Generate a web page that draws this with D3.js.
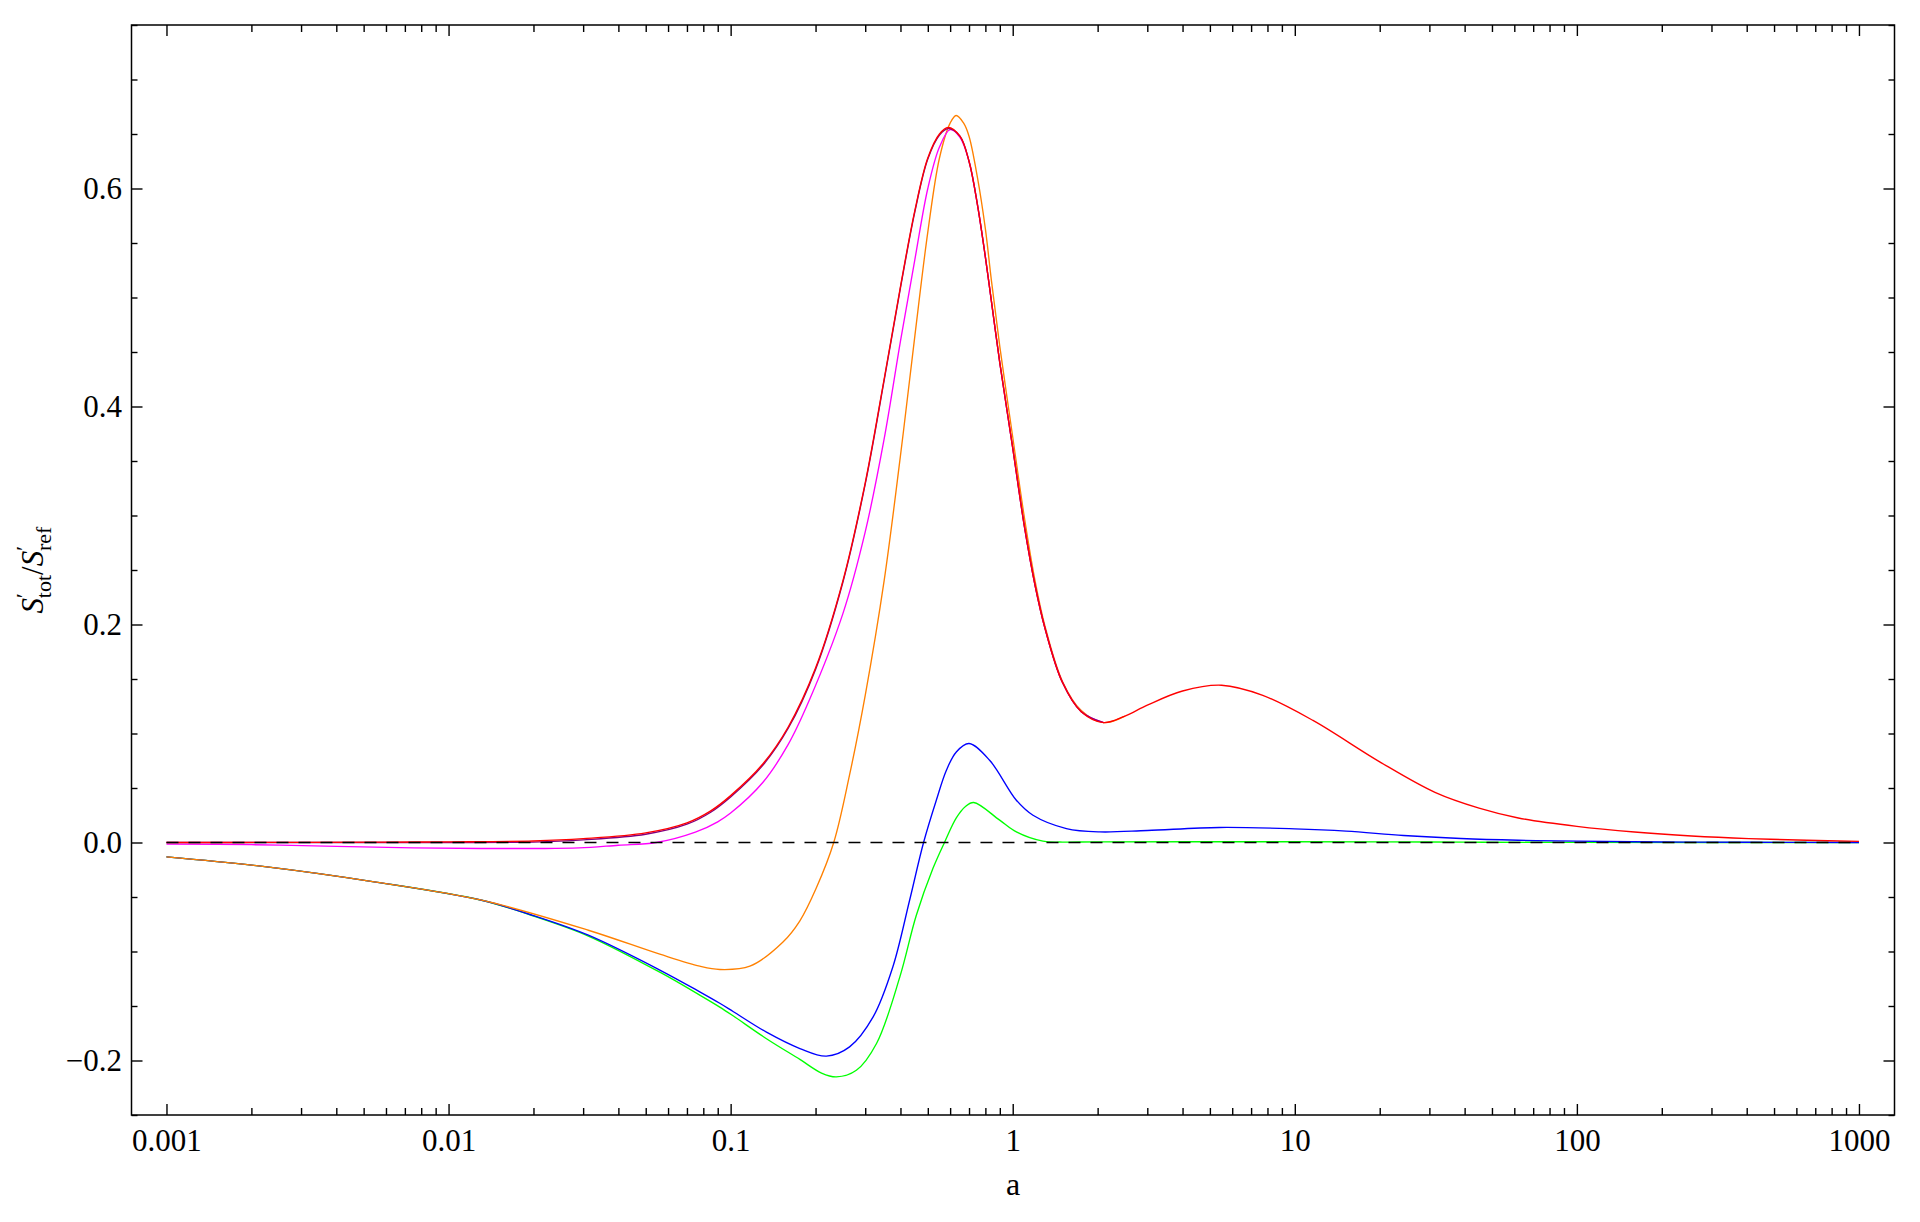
<!DOCTYPE html>
<html>
<head>
<meta charset="utf-8">
<script src="https://cdn.jsdelivr.net/npm/d3@7/dist/d3.min.js"></script>
<style>
  html, body { margin: 0; padding: 0; background: #ffffff; }
  svg { display: block; }
  svg text { font-family: "Liberation Serif", "Tinos", "Times New Roman", "DejaVu Serif", serif; fill: #000; }
</style>
</head>
<body>
<svg id="chart" width="1920" height="1222"></svg>
<script>
// ---------------- data ----------------
const xTickValues = [0.001, 0.01, 0.1, 1, 10, 100, 1000];
const xTickLabels = ["0.001", "0.01", "0.1", "1", "10", "100", "1000"];
const yTickValues = [-0.2, 0.0, 0.2, 0.4, 0.6];
const yTickLabels = ["\u22120.2", "0.0", "0.2", "0.4", "0.6"];

const redA = [0.001, 0.003, 0.006, 0.01, 0.02, 0.03, 0.05, 0.07, 0.085, 0.1, 0.13, 0.16, 0.2, 0.25, 0.3, 0.35, 0.4, 0.45, 0.5, 0.55, 0.59, 0.65, 0.7, 0.75, 0.8, 0.85, 0.9, 1.0, 1.1, 1.2, 1.3, 1.5, 1.75, 2.1, 2.5, 3.0, 4.0, 5.5, 7.7, 11.6, 20, 31.4, 45, 62, 100, 160, 255, 407, 654, 1000];
const redV = [0, 0.0001, 0.0003, 0.0006, 0.0014, 0.0035, 0.0088, 0.018, 0.029, 0.043, 0.072, 0.106, 0.16, 0.24, 0.33, 0.425, 0.51, 0.58, 0.628, 0.65, 0.656, 0.648, 0.625, 0.585, 0.537, 0.487, 0.44, 0.362, 0.29, 0.236, 0.197, 0.147, 0.12, 0.110, 0.116, 0.126, 0.139, 0.1443, 0.135, 0.112, 0.074, 0.046, 0.0315, 0.0225, 0.0148, 0.0096, 0.006, 0.0036, 0.0021, 0.001];

const purpleA = [0.001, 0.003, 0.006, 0.01, 0.02, 0.03, 0.05, 0.07, 0.085, 0.1, 0.13, 0.16, 0.2, 0.25, 0.3, 0.35, 0.4, 0.45, 0.5, 0.55, 0.59, 0.65, 0.7, 0.75, 0.8, 0.85, 0.9, 1.0, 1.1, 1.2, 1.3, 1.5, 1.75, 2.1];
const purpleV = [0, 0, 0, 0, 0.0004, 0.0024, 0.0076, 0.0168, 0.0278, 0.0418, 0.0708, 0.1048, 0.1588, 0.2388, 0.3288, 0.4238, 0.5088, 0.5788, 0.627, 0.649, 0.655, 0.648, 0.625, 0.585, 0.537, 0.487, 0.44, 0.362, 0.29, 0.236, 0.197, 0.147, 0.12, 0.110];

const magentaA = [0.001, 0.002, 0.004, 0.0075, 0.013, 0.02, 0.029, 0.04, 0.0545, 0.075, 0.09, 0.1, 0.13, 0.16, 0.19, 0.25, 0.3, 0.35, 0.4, 0.45, 0.5, 0.55, 0.6, 0.65, 0.7, 0.75, 0.8, 0.85, 0.9, 1.0, 1.1, 1.2, 1.3, 1.5, 1.75, 2.1];
const magentaV = [-0.0015, -0.002, -0.0035, -0.005, -0.0055, -0.0055, -0.005, -0.0025, 0, 0.0095, 0.019, 0.027, 0.055, 0.09, 0.1305, 0.21, 0.285, 0.37, 0.46, 0.535, 0.6, 0.638, 0.654, 0.647, 0.625, 0.585, 0.537, 0.487, 0.44, 0.362, 0.29, 0.236, 0.197, 0.147, 0.12, 0.110];

const orangeA = [0.001, 0.00227, 0.00545, 0.0131, 0.0313, 0.0561, 0.0777, 0.0915, 0.117, 0.153, 0.176, 0.201, 0.232, 0.264, 0.3, 0.35, 0.4, 0.45, 0.5, 0.55, 0.6, 0.63, 0.67, 0.7, 0.75, 0.8, 0.84, 0.9, 1.0, 1.1, 1.2, 1.3, 1.5, 1.75, 2.1, 2.5];
const orangeV = [-0.0132, -0.0224, -0.0361, -0.0529, -0.0805, -0.1025, -0.1135, -0.1165, -0.1135, -0.0915, -0.0718, -0.042, 0, 0.062, 0.135, 0.24, 0.355, 0.465, 0.56, 0.628, 0.66, 0.667, 0.66, 0.648, 0.61, 0.563, 0.516, 0.455, 0.372, 0.298, 0.24, 0.199, 0.148, 0.121, 0.110, 0.116];

const blueA = [0.001, 0.00227, 0.00545, 0.0131, 0.02, 0.0313, 0.0561, 0.0777, 0.0915, 0.102, 0.134, 0.176, 0.2185, 0.264, 0.32, 0.376, 0.431, 0.483, 0.536, 0.582, 0.631, 0.70, 0.828, 1.03, 1.18, 1.55, 2.03, 3.0, 5.4, 10, 15.2, 24.3, 38.8, 62, 100, 200, 400, 1000];
const blueV = [-0.0132, -0.0224, -0.0361, -0.053, -0.067, -0.085, -0.117, -0.137, -0.1475, -0.155, -0.174, -0.189, -0.196, -0.1875, -0.16, -0.114, -0.053, 0, 0.0388, 0.0663, 0.0831, 0.0908, 0.0755, 0.0388, 0.025, 0.0128, 0.0097, 0.011, 0.0138, 0.0125, 0.0104, 0.0064, 0.0037, 0.0021, 0.0012, 0.0005, 0.0002, 0];

const greenA = [0.001, 0.00227, 0.00545, 0.0131, 0.02, 0.0313, 0.0561, 0.0777, 0.0915, 0.102, 0.134, 0.176, 0.21, 0.237, 0.279, 0.329, 0.398, 0.455, 0.522, 0.574, 0.631, 0.68, 0.727, 0.899, 1.03, 1.28, 1.5, 2, 5, 20, 40, 100, 1000];
const greenV = [-0.0132, -0.0224, -0.0361, -0.053, -0.0675, -0.0858, -0.119, -0.14, -0.151, -0.159, -0.18, -0.199, -0.2115, -0.215, -0.209, -0.1844, -0.1233, -0.067, -0.0235, 0.0005, 0.0225, 0.033, 0.0367, 0.0205, 0.0097, 0.0012, 0.0004, 0.0006, 0.0007, 0.0006, 0.0003, 0.0001, 0];

const zeroLineA = [0.001, 1000];
const zeroLineV = [0, 0];

// ---------------- layout ----------------
const svg = d3.select("#chart");
const plotLeft = 131.5, plotRight = 1894.5, plotTop = 25, plotBottom = 1115;

const x = d3.scaleLog()
  .domain([Math.pow(10, -3.124), Math.pow(10, 3.126)])
  .range([plotLeft, plotRight]);
const y = d3.scaleLinear()
  .domain([-0.25, 0.75])
  .range([plotBottom, plotTop]);

const xMinor = [];
for (let d = -3; d < 3; d++) for (let k = 2; k <= 9; k++) xMinor.push(k * Math.pow(10, d));
const yMinor = d3.range(-5, 16).map(i => i * 0.05).filter(v => Math.abs(v / 0.2 - Math.round(v / 0.2)) > 1e-6);

const fontSize = 31;

function styleAxis(g) {
  g.attr("font-family", null).attr("font-size", null);
  g.select(".domain").remove();
  g.selectAll(".tick line").attr("stroke", "#000").attr("stroke-width", 1.4);
  g.selectAll("text").attr("font-size", fontSize).attr("fill", "#000");
}

// bottom
svg.append("g").attr("transform", `translate(0,${plotBottom})`)
  .call(d3.axisBottom(x).tickValues(xTickValues).tickSize(-11).tickPadding(14)
    .tickFormat((d, i) => xTickLabels[i]))
  .call(styleAxis);
svg.append("g").attr("transform", `translate(0,${plotBottom})`)
  .call(d3.axisBottom(x).tickValues(xMinor).tickSize(-7).tickFormat(""))
  .call(styleAxis);
// top
svg.append("g").attr("transform", `translate(0,${plotTop})`)
  .call(d3.axisTop(x).tickValues(xTickValues).tickSize(-11).tickFormat(""))
  .call(styleAxis);
svg.append("g").attr("transform", `translate(0,${plotTop})`)
  .call(d3.axisTop(x).tickValues(xMinor).tickSize(-7).tickFormat(""))
  .call(styleAxis);
// left
svg.append("g").attr("transform", `translate(${plotLeft},0)`)
  .call(d3.axisLeft(y).tickValues(yTickValues).tickSize(-11).tickPadding(9.5)
    .tickFormat((d, i) => yTickLabels[i]))
  .call(styleAxis);
svg.append("g").attr("transform", `translate(${plotLeft},0)`)
  .call(d3.axisLeft(y).tickValues(yMinor).tickSize(-6).tickFormat(""))
  .call(styleAxis);
// right
svg.append("g").attr("transform", `translate(${plotRight},0)`)
  .call(d3.axisRight(y).tickValues(yTickValues).tickSize(-11).tickFormat(""))
  .call(styleAxis);
svg.append("g").attr("transform", `translate(${plotRight},0)`)
  .call(d3.axisRight(y).tickValues(yMinor).tickSize(-6).tickFormat(""))
  .call(styleAxis);

// curves
const line = d3.line().x(d => x(d[0])).y(d => y(d[1])).curve(d3.curveCatmullRom.alpha(0.5));
const series = [
  { a: greenA, v: greenV, color: "#00ff00" },
  { a: blueA, v: blueV, color: "#0000ff" },
  { a: orangeA, v: orangeV, color: "#ff8000" },
  { a: magentaA, v: magentaV, color: "#ff00ff" },
  { a: purpleA, v: purpleV, color: "#800080" },
  { a: redA, v: redV, color: "#ff0000" }
];
const plot = svg.append("g");
series.forEach(s => {
  plot.append("path")
    .datum(s.a.map((a, i) => [a, s.v[i]]))
    .attr("d", line)
    .attr("fill", "none")
    .attr("stroke", s.color)
    .attr("stroke-width", 1.35)
    .attr("stroke-linejoin", "round");
});
plot.append("path")
  .datum(zeroLineA.map((a, i) => [a, zeroLineV[i]]))
  .attr("d", d3.line().x(d => x(d[0])).y(d => y(d[1])))
  .attr("fill", "none")
  .attr("stroke", "#000")
  .attr("stroke-width", 1.4)
  .attr("stroke-dasharray", "12,10");

// frame
svg.append("rect")
  .attr("x", plotLeft).attr("y", plotTop)
  .attr("width", plotRight - plotLeft).attr("height", plotBottom - plotTop)
  .attr("fill", "none").attr("stroke", "#000").attr("stroke-width", 1.5);

// axis labels
svg.append("text")
  .attr("x", (plotLeft + plotRight) / 2).attr("y", 1195)
  .attr("text-anchor", "middle").attr("font-size", 32)
  .text("a");

const yl = svg.append("text")
  .attr("transform", `translate(43,${(plotTop + plotBottom) / 2}) rotate(-90)`)
  .attr("text-anchor", "middle").attr("font-size", fontSize);
yl.append("tspan").attr("font-style", "italic").text("S");
yl.append("tspan").attr("font-size", 22).attr("dy", -12).text("\u2032");
yl.append("tspan").attr("font-size", 22).attr("dx", -5).attr("dy", 20).text("tot");
yl.append("tspan").attr("dy", -8).text("/");
yl.append("tspan").attr("font-style", "italic").text("S");
yl.append("tspan").attr("font-size", 22).attr("dy", -12).text("\u2032");
yl.append("tspan").attr("font-size", 22).attr("dx", -5).attr("dy", 20).text("ref");
</script>
</body>
</html>
